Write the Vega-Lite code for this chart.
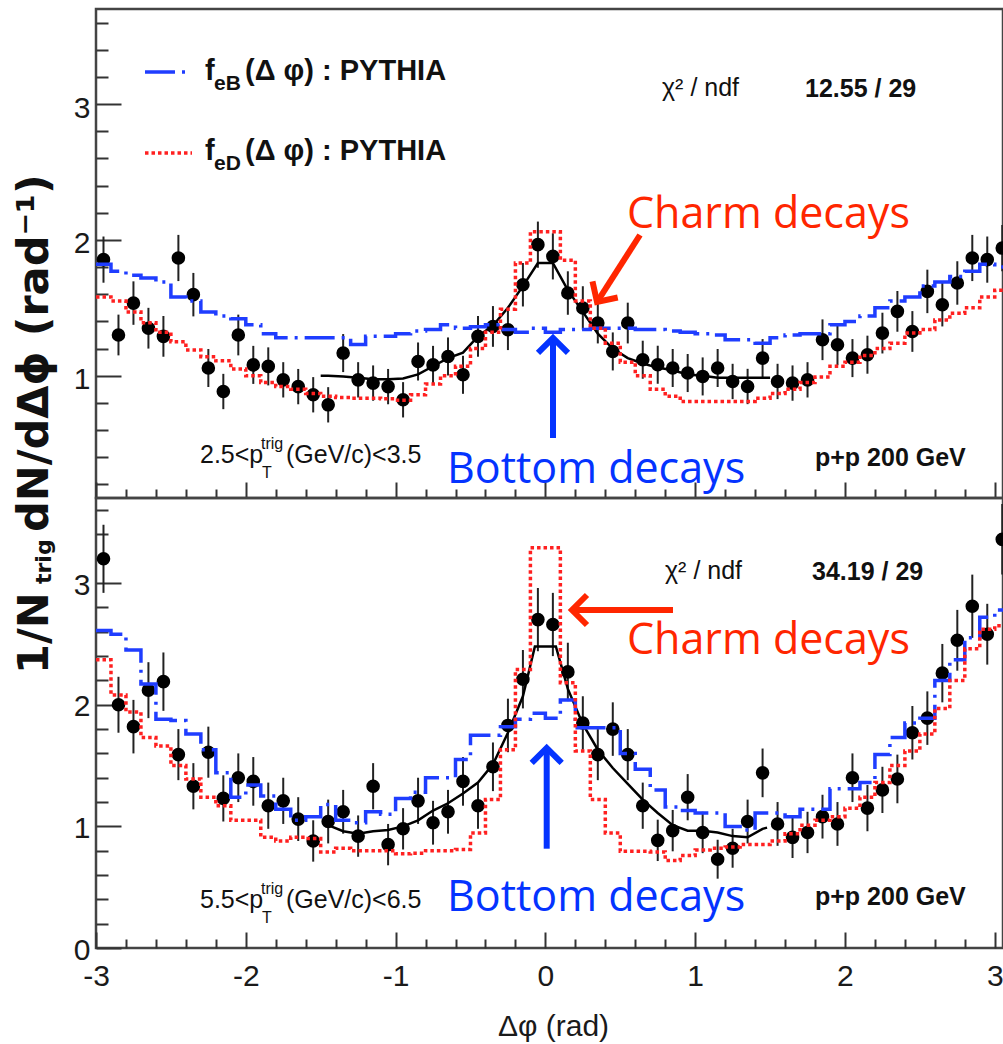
{
  "$schema": "https://vega.github.io/schema/vega-lite/v6.json",
  "autosize": {"type": "none"},
  "padding": {"left": 96, "top": 9, "right": 907, "bottom": 1035},
  "background": "white",
  "spacing": 0,
  "bounds": "flush",
  "config": {
    "view": {"stroke": "#444444", "strokeWidth": 2.5},
    "axis": {"domain": false, "grid": false, "tickColor": "#333333", "tickWidth": 2, "labelFont": "Liberation Sans, Arial, sans-serif", "labelFontSize": 30, "labelColor": "#1a1a1a", "labelFlush": false, "labelOverlap": false, "labelBound": false}
  },
  "datasets": {
    "topPts": [{"x":-2.95,"y":1.855,"err":0.17},{"x":-2.85,"y":1.30,"err":0.15},{"x":-2.75,"y":1.535,"err":0.16},{"x":-2.65,"y":1.35,"err":0.15},{"x":-2.55,"y":1.29,"err":0.15},{"x":-2.45,"y":1.867,"err":0.17},{"x":-2.35,"y":1.597,"err":0.16},{"x":-2.25,"y":1.057,"err":0.14},{"x":-2.15,"y":0.884,"err":0.13},{"x":-2.05,"y":1.30,"err":0.15},{"x":-1.95,"y":1.08,"err":0.14},{"x":-1.85,"y":1.069,"err":0.14},{"x":-1.75,"y":0.97,"err":0.13},{"x":-1.65,"y":0.92,"err":0.13},{"x":-1.55,"y":0.86,"err":0.13},{"x":-1.45,"y":0.786,"err":0.13},{"x":-1.35,"y":1.167,"err":0.14},{"x":-1.25,"y":0.97,"err":0.13},{"x":-1.15,"y":0.946,"err":0.13},{"x":-1.05,"y":0.92,"err":0.13},{"x":-0.95,"y":0.823,"err":0.13},{"x":-0.85,"y":1.105,"err":0.14},{"x":-0.75,"y":1.08,"err":0.14},{"x":-0.65,"y":1.142,"err":0.14},{"x":-0.55,"y":1.007,"err":0.14},{"x":-0.45,"y":1.29,"err":0.15},{"x":-0.35,"y":1.363,"err":0.15},{"x":-0.25,"y":1.339,"err":0.15},{"x":-0.15,"y":1.67,"err":0.16},{"x":-0.05,"y":1.965,"err":0.17},{"x":0.05,"y":1.879,"err":0.17},{"x":0.15,"y":1.609,"err":0.16},{"x":0.25,"y":1.499,"err":0.16},{"x":0.35,"y":1.388,"err":0.15},{"x":0.45,"y":1.179,"err":0.14},{"x":0.55,"y":1.388,"err":0.15},{"x":0.65,"y":1.118,"err":0.14},{"x":0.75,"y":1.081,"err":0.14},{"x":0.85,"y":1.057,"err":0.14},{"x":0.95,"y":1.02,"err":0.14},{"x":1.05,"y":0.995,"err":0.14},{"x":1.15,"y":1.057,"err":0.14},{"x":1.25,"y":0.958,"err":0.13},{"x":1.35,"y":0.921,"err":0.13},{"x":1.45,"y":1.13,"err":0.14},{"x":1.55,"y":0.958,"err":0.13},{"x":1.65,"y":0.946,"err":0.13},{"x":1.75,"y":0.97,"err":0.13},{"x":1.85,"y":1.265,"err":0.15},{"x":1.95,"y":1.228,"err":0.15},{"x":2.05,"y":1.13,"err":0.14},{"x":2.15,"y":1.155,"err":0.14},{"x":2.25,"y":1.314,"err":0.15},{"x":2.35,"y":1.474,"err":0.15},{"x":2.45,"y":1.326,"err":0.15},{"x":2.55,"y":1.621,"err":0.16},{"x":2.65,"y":1.523,"err":0.16},{"x":2.75,"y":1.683,"err":0.16},{"x":2.85,"y":1.867,"err":0.17},{"x":2.95,"y":1.855,"err":0.17},{"x":3.05,"y":1.94,"err":0.17}],
    "botPts": [{"x":-2.95,"y":3.20,"err":0.28},{"x":-2.85,"y":2.00,"err":0.23},{"x":-2.75,"y":1.82,"err":0.22},{"x":-2.65,"y":2.12,"err":0.23},{"x":-2.55,"y":2.19,"err":0.24},{"x":-2.45,"y":1.59,"err":0.21},{"x":-2.35,"y":1.33,"err":0.19},{"x":-2.25,"y":1.61,"err":0.21},{"x":-2.15,"y":1.23,"err":0.19},{"x":-2.05,"y":1.40,"err":0.20},{"x":-1.95,"y":1.37,"err":0.20},{"x":-1.85,"y":1.17,"err":0.19},{"x":-1.75,"y":1.21,"err":0.19},{"x":-1.65,"y":1.06,"err":0.18},{"x":-1.55,"y":0.88,"err":0.17},{"x":-1.45,"y":1.04,"err":0.18},{"x":-1.35,"y":1.12,"err":0.18},{"x":-1.25,"y":0.92,"err":0.17},{"x":-1.15,"y":1.33,"err":0.19},{"x":-1.05,"y":0.85,"err":0.17},{"x":-0.95,"y":0.98,"err":0.17},{"x":-0.85,"y":1.21,"err":0.19},{"x":-0.75,"y":1.03,"err":0.18},{"x":-0.65,"y":1.12,"err":0.18},{"x":-0.55,"y":1.37,"err":0.20},{"x":-0.45,"y":1.17,"err":0.19},{"x":-0.35,"y":1.49,"err":0.20},{"x":-0.25,"y":1.83,"err":0.22},{"x":-0.15,"y":2.21,"err":0.24},{"x":-0.05,"y":2.70,"err":0.26},{"x":0.05,"y":2.66,"err":0.26},{"x":0.15,"y":2.27,"err":0.24},{"x":0.25,"y":1.85,"err":0.22},{"x":0.35,"y":1.59,"err":0.21},{"x":0.45,"y":1.80,"err":0.22},{"x":0.55,"y":1.59,"err":0.21},{"x":0.65,"y":1.17,"err":0.19},{"x":0.75,"y":0.885,"err":0.17},{"x":0.85,"y":0.965,"err":0.17},{"x":0.95,"y":1.24,"err":0.19},{"x":1.05,"y":0.95,"err":0.17},{"x":1.15,"y":0.73,"err":0.16},{"x":1.25,"y":0.82,"err":0.16},{"x":1.35,"y":1.04,"err":0.18},{"x":1.45,"y":1.44,"err":0.20},{"x":1.55,"y":1.02,"err":0.18},{"x":1.65,"y":0.91,"err":0.17},{"x":1.75,"y":0.95,"err":0.17},{"x":1.85,"y":1.08,"err":0.18},{"x":1.95,"y":1.02,"err":0.18},{"x":2.05,"y":1.40,"err":0.20},{"x":2.15,"y":1.15,"err":0.19},{"x":2.25,"y":1.30,"err":0.19},{"x":2.35,"y":1.39,"err":0.20},{"x":2.45,"y":1.77,"err":0.22},{"x":2.55,"y":1.89,"err":0.22},{"x":2.65,"y":2.26,"err":0.24},{"x":2.75,"y":2.53,"err":0.25},{"x":2.85,"y":2.81,"err":0.26},{"x":2.95,"y":2.58,"err":0.25},{"x":3.05,"y":3.36,"err":0.29}],
    "topB": [{"x":-3.0,"y":1.82},{"x":-2.9,"y":1.77},{"x":-2.8,"y":1.74},{"x":-2.7,"y":1.72},{"x":-2.6,"y":1.69},{"x":-2.5,"y":1.58},{"x":-2.4,"y":1.55},{"x":-2.3,"y":1.47},{"x":-2.2,"y":1.44},{"x":-2.1,"y":1.42},{"x":-2.0,"y":1.375},{"x":-1.9,"y":1.31},{"x":-1.8,"y":1.28},{"x":-1.7,"y":1.28},{"x":-1.6,"y":1.28},{"x":-1.5,"y":1.28},{"x":-1.4,"y":1.28},{"x":-1.3,"y":1.23},{"x":-1.2,"y":1.29},{"x":-1.1,"y":1.29},{"x":-1.0,"y":1.31},{"x":-0.9,"y":1.33},{"x":-0.8,"y":1.34},{"x":-0.7,"y":1.375},{"x":-0.6,"y":1.35},{"x":-0.5,"y":1.36},{"x":-0.4,"y":1.375},{"x":-0.3,"y":1.34},{"x":-0.2,"y":1.32},{"x":-0.1,"y":1.35},{"x":0.0,"y":1.32},{"x":0.1,"y":1.34},{"x":0.2,"y":1.34},{"x":0.3,"y":1.35},{"x":0.4,"y":1.35},{"x":0.5,"y":1.35},{"x":0.6,"y":1.34},{"x":0.7,"y":1.34},{"x":0.8,"y":1.33},{"x":0.9,"y":1.32},{"x":1.0,"y":1.31},{"x":1.1,"y":1.30},{"x":1.2,"y":1.265},{"x":1.3,"y":1.265},{"x":1.4,"y":1.24},{"x":1.5,"y":1.28},{"x":1.6,"y":1.30},{"x":1.7,"y":1.31},{"x":1.8,"y":1.31},{"x":1.9,"y":1.375},{"x":2.0,"y":1.40},{"x":2.1,"y":1.44},{"x":2.2,"y":1.50},{"x":2.3,"y":1.55},{"x":2.4,"y":1.58},{"x":2.5,"y":1.66},{"x":2.6,"y":1.69},{"x":2.7,"y":1.73},{"x":2.8,"y":1.77},{"x":2.9,"y":1.82},{"x":3.0,"y":1.80},{"x":3.1,"y":1.80}],
    "topD": [{"x":-3.0,"y":1.58},{"x":-2.9,"y":1.55},{"x":-2.8,"y":1.47},{"x":-2.7,"y":1.39},{"x":-2.6,"y":1.32},{"x":-2.5,"y":1.25},{"x":-2.4,"y":1.19},{"x":-2.3,"y":1.14},{"x":-2.2,"y":1.11},{"x":-2.1,"y":1.05},{"x":-2.0,"y":1.00},{"x":-1.9,"y":0.95},{"x":-1.8,"y":0.92},{"x":-1.7,"y":0.90},{"x":-1.6,"y":0.87},{"x":-1.5,"y":0.85},{"x":-1.4,"y":0.84},{"x":-1.3,"y":0.835},{"x":-1.2,"y":0.835},{"x":-1.1,"y":0.83},{"x":-1.0,"y":0.82},{"x":-0.9,"y":0.86},{"x":-0.8,"y":0.94},{"x":-0.7,"y":1.00},{"x":-0.6,"y":1.07},{"x":-0.5,"y":1.20},{"x":-0.4,"y":1.32},{"x":-0.3,"y":1.49},{"x":-0.2,"y":1.83},{"x":-0.1,"y":2.06},{"x":0.0,"y":2.06},{"x":0.1,"y":1.85},{"x":0.2,"y":1.55},{"x":0.3,"y":1.35},{"x":0.4,"y":1.24},{"x":0.5,"y":1.10},{"x":0.6,"y":1.00},{"x":0.7,"y":0.90},{"x":0.8,"y":0.85},{"x":0.9,"y":0.81},{"x":1.0,"y":0.81},{"x":1.1,"y":0.81},{"x":1.2,"y":0.81},{"x":1.3,"y":0.81},{"x":1.4,"y":0.835},{"x":1.5,"y":0.87},{"x":1.6,"y":0.90},{"x":1.7,"y":0.95},{"x":1.8,"y":0.99},{"x":1.9,"y":1.07},{"x":2.0,"y":1.10},{"x":2.1,"y":1.15},{"x":2.2,"y":1.20},{"x":2.3,"y":1.24},{"x":2.4,"y":1.315},{"x":2.5,"y":1.34},{"x":2.6,"y":1.41},{"x":2.7,"y":1.46},{"x":2.8,"y":1.50},{"x":2.9,"y":1.58},{"x":3.0,"y":1.63},{"x":3.1,"y":1.63}],
    "botB": [{"x":-3.0,"y":2.61},{"x":-2.9,"y":2.58},{"x":-2.8,"y":2.45},{"x":-2.7,"y":2.17},{"x":-2.6,"y":1.88},{"x":-2.5,"y":1.87},{"x":-2.4,"y":1.76},{"x":-2.3,"y":1.63},{"x":-2.2,"y":1.44},{"x":-2.1,"y":1.24},{"x":-2.0,"y":1.34},{"x":-1.9,"y":1.25},{"x":-1.8,"y":1.14},{"x":-1.7,"y":1.05},{"x":-1.6,"y":1.08},{"x":-1.5,"y":1.18},{"x":-1.4,"y":1.05},{"x":-1.3,"y":1.03},{"x":-1.2,"y":1.12},{"x":-1.1,"y":1.10},{"x":-1.0,"y":1.23},{"x":-0.9,"y":1.28},{"x":-0.8,"y":1.40},{"x":-0.7,"y":1.40},{"x":-0.6,"y":1.55},{"x":-0.5,"y":1.75},{"x":-0.4,"y":1.75},{"x":-0.3,"y":1.82},{"x":-0.2,"y":1.88},{"x":-0.1,"y":1.93},{"x":0.0,"y":1.89},{"x":0.1,"y":2.04},{"x":0.2,"y":1.81},{"x":0.3,"y":1.81},{"x":0.4,"y":1.81},{"x":0.5,"y":1.60},{"x":0.6,"y":1.47},{"x":0.7,"y":1.30},{"x":0.8,"y":1.16},{"x":0.9,"y":1.13},{"x":1.0,"y":1.11},{"x":1.1,"y":1.11},{"x":1.2,"y":1.00},{"x":1.3,"y":0.97},{"x":1.4,"y":1.11},{"x":1.5,"y":1.11},{"x":1.6,"y":1.08},{"x":1.7,"y":1.14},{"x":1.8,"y":1.14},{"x":1.9,"y":1.31},{"x":2.0,"y":1.31},{"x":2.1,"y":1.36},{"x":2.2,"y":1.59},{"x":2.3,"y":1.73},{"x":2.4,"y":1.85},{"x":2.5,"y":1.89},{"x":2.6,"y":2.20},{"x":2.7,"y":2.37},{"x":2.8,"y":2.55},{"x":2.9,"y":2.72},{"x":3.0,"y":2.78},{"x":3.1,"y":2.78}],
    "botD": [{"x":-3.0,"y":2.37},{"x":-2.9,"y":2.08},{"x":-2.8,"y":1.94},{"x":-2.7,"y":1.73},{"x":-2.6,"y":1.66},{"x":-2.5,"y":1.50},{"x":-2.4,"y":1.39},{"x":-2.3,"y":1.24},{"x":-2.2,"y":1.17},{"x":-2.1,"y":1.05},{"x":-2.0,"y":1.05},{"x":-1.9,"y":0.91},{"x":-1.8,"y":0.88},{"x":-1.7,"y":0.91},{"x":-1.6,"y":0.90},{"x":-1.5,"y":0.79},{"x":-1.4,"y":0.82},{"x":-1.3,"y":0.80},{"x":-1.2,"y":0.80},{"x":-1.1,"y":0.80},{"x":-1.0,"y":0.775},{"x":-0.9,"y":0.78},{"x":-0.8,"y":0.80},{"x":-0.7,"y":0.80},{"x":-0.6,"y":0.81},{"x":-0.5,"y":0.945},{"x":-0.4,"y":1.22},{"x":-0.3,"y":1.63},{"x":-0.2,"y":2.29},{"x":-0.1,"y":3.29},{"x":0.0,"y":3.29},{"x":0.1,"y":2.18},{"x":0.2,"y":1.62},{"x":0.3,"y":1.22},{"x":0.4,"y":0.945},{"x":0.5,"y":0.795},{"x":0.6,"y":0.795},{"x":0.7,"y":0.79},{"x":0.8,"y":0.72},{"x":0.9,"y":0.76},{"x":1.0,"y":0.805},{"x":1.1,"y":0.82},{"x":1.2,"y":0.83},{"x":1.3,"y":0.85},{"x":1.4,"y":0.85},{"x":1.5,"y":0.88},{"x":1.6,"y":0.94},{"x":1.7,"y":1.01},{"x":1.8,"y":1.05},{"x":1.9,"y":1.08},{"x":2.0,"y":1.15},{"x":2.1,"y":1.24},{"x":2.2,"y":1.36},{"x":2.3,"y":1.50},{"x":2.4,"y":1.62},{"x":2.5,"y":1.76},{"x":2.6,"y":1.97},{"x":2.7,"y":2.20},{"x":2.8,"y":2.46},{"x":2.9,"y":2.62},{"x":3.0,"y":2.65},{"x":3.1,"y":2.65}],
    "topFit": [{"x":-1.5,"y":1.0},{"x":-1.45,"y":1.0},{"x":-1.35,"y":0.995},{"x":-1.25,"y":0.985},{"x":-1.15,"y":0.975},{"x":-1.05,"y":0.975},{"x":-0.95,"y":0.98},{"x":-0.85,"y":1.01},{"x":-0.75,"y":1.07},{"x":-0.65,"y":1.13},{"x":-0.55,"y":1.17},{"x":-0.45,"y":1.29},{"x":-0.35,"y":1.37},{"x":-0.25,"y":1.50},{"x":-0.15,"y":1.66},{"x":-0.05,"y":1.83},{"x":0.05,"y":1.83},{"x":0.15,"y":1.63},{"x":0.25,"y":1.47},{"x":0.35,"y":1.31},{"x":0.45,"y":1.20},{"x":0.55,"y":1.13},{"x":0.65,"y":1.09},{"x":0.75,"y":1.06},{"x":0.85,"y":1.04},{"x":0.95,"y":1.01},{"x":1.05,"y":1.0},{"x":1.15,"y":0.985},{"x":1.25,"y":0.985},{"x":1.35,"y":0.985},{"x":1.45,"y":0.985},{"x":1.5,"y":0.985}],
    "botFit": [{"x":-1.47,"y":1.01},{"x":-1.45,"y":1.01},{"x":-1.35,"y":0.96},{"x":-1.25,"y":0.94},{"x":-1.15,"y":0.96},{"x":-1.05,"y":0.97},{"x":-0.95,"y":1.0},{"x":-0.85,"y":1.05},{"x":-0.75,"y":1.13},{"x":-0.65,"y":1.19},{"x":-0.55,"y":1.27},{"x":-0.45,"y":1.36},{"x":-0.35,"y":1.51},{"x":-0.25,"y":1.77},{"x":-0.15,"y":2.07},{"x":-0.07,"y":2.48},{"x":0.07,"y":2.48},{"x":0.15,"y":2.13},{"x":0.25,"y":1.84},{"x":0.35,"y":1.63},{"x":0.45,"y":1.48},{"x":0.55,"y":1.35},{"x":0.65,"y":1.22},{"x":0.75,"y":1.11},{"x":0.85,"y":1.01},{"x":0.95,"y":0.965},{"x":1.05,"y":0.965},{"x":1.15,"y":0.95},{"x":1.25,"y":0.92},{"x":1.35,"y":0.91},{"x":1.45,"y":0.98},{"x":1.48,"y":0.99}]
  },
  "vconcat": [
    {
      "width": 907,
      "height": 489,
      "encoding": {
        "x": {"field": "x", "type": "quantitative", "scale": {"domain": [-3, 3.055], "nice": false, "zero": false},
              "axis": {"values": [-3,-2.8,-2.6,-2.4,-2.2,-2,-1.8,-1.6,-1.4,-1.2,-1,-0.8,-0.6,-0.4,-0.2,0,0.2,0.4,0.6,0.8,1,1.2,1.4,1.6,1.8,2,2.2,2.4,2.6,2.8,3], "labels": false, "title": null,
                       "tickSize": {"condition": {"test": "datum.value % 1 === 0", "value": -16}, "value": -9}}},
        "y": {"field": "y", "type": "quantitative", "scale": {"domain": [0.1, 3.7], "nice": false, "zero": false},
              "axis": {"values": [0.2,0.4,0.6,0.8,1,1.2,1.4,1.6,1.8,2,2.2,2.4,2.6,2.8,3,3.2,3.4,3.6], "title": null,
                       "labelExpr": "datum.value % 1 === 0 ? '' + datum.value : ''",
                       "tickSize": {"condition": {"test": "datum.value % 1 === 0", "value": -25}, "value": -12},
                       "labelPadding": 31, "labelOffset": 4}}
      },
      "layer": [
        {"data": {"name": "topPts"}, "mark": {"type": "errorbar", "color": "#222222", "thickness": 2}, "encoding": {"yError": {"field": "err"}}},
        {"data": {"name": "topPts"}, "mark": {"type": "point", "shape": "circle", "filled": true, "color": "#000000", "size": 185, "opacity": 1}},
        {"data": {"name": "topFit"}, "mark": {"type": "line", "color": "#000000", "strokeWidth": 2.5}},
        {"data": {"name": "topB"}, "mark": {"type": "line", "interpolate": "step-after", "color": "#1f3dff", "strokeWidth": 3.5, "strokeDash": [30, 7, 3, 7], "clip": true}},
        {"data": {"name": "topD"}, "mark": {"type": "line", "interpolate": "step-after", "color": "#ff2020", "strokeWidth": 3.5, "strokeDash": [3.5, 3], "clip": true}},
        {"data": {"values": [{"x": -2.6729, "x2": -2.3591, "y": 3.2362}]}, "mark": {"type": "rule", "color": "#1f3dff", "strokeWidth": 3.5, "strokeDash": [30, 7, 3, 7]}, "encoding": {"x2": {"field": "x2"}}},
        {"data": {"values": [{"x": -2.6729, "x2": -2.3591, "y": 2.6399}]}, "mark": {"type": "rule", "color": "#ff2020", "strokeWidth": 3.5, "strokeDash": [3.5, 3]}, "encoding": {"x2": {"field": "x2"}}},
        {"data": {"values": [{"x": -2.2723, "y": 3.1773, "t": "f"}, {"x": -2.0053, "y": 3.1773, "t": "(Δ φ) : PYTHIA"}, {"x": -2.2723, "y": 2.5883, "t": "f"}, {"x": -2.0053, "y": 2.5883, "t": "(Δ φ) : PYTHIA"}]},
         "mark": {"type": "text", "align": "left", "baseline": "alphabetic", "font": "Liberation Sans, Arial, sans-serif", "fontSize": 29, "fontWeight": "bold", "color": "#111111"}, "encoding": {"text": {"field": "t"}}},
        {"data": {"values": [{"x": -2.2123, "y": 3.1037, "t": "eB"}, {"x": -2.2123, "y": 2.5147, "t": "eD"}]},
         "mark": {"type": "text", "align": "left", "baseline": "alphabetic", "font": "Liberation Sans, Arial, sans-serif", "fontSize": 21, "fontWeight": "bold", "color": "#111111"}, "encoding": {"text": {"field": "t"}}},
        {"data": {"values": [{"x": 0.7785, "y": 3.0595, "t": "χ² / ndf"}, {"x": -2.3057, "y": 0.3605, "t": "2.5<p"}, {"x": -1.7316, "y": 0.3605, "t": "(GeV/c)<3.5"}]},
         "mark": {"type": "text", "align": "left", "baseline": "alphabetic", "font": "Liberation Sans, Arial, sans-serif", "fontSize": 25, "color": "#111111"}, "encoding": {"text": {"field": "t"}}},
        {"data": {"values": [{"x": -1.8985, "y": 0.4636, "t": "trig"}, {"x": -1.8919, "y": 0.2472, "t": "T"}]},
         "mark": {"type": "text", "align": "left", "baseline": "alphabetic", "font": "Liberation Sans, Arial, sans-serif", "fontSize": 16, "color": "#111111"}, "encoding": {"text": {"field": "t"}}},
        {"data": {"values": [{"x": 1.7331, "y": 3.0485, "t": "12.55 / 29"}, {"x": 1.7999, "y": 0.3356, "t": "p+p 200 GeV"}]},
         "mark": {"type": "text", "align": "left", "baseline": "alphabetic", "font": "Liberation Sans, Arial, sans-serif", "fontSize": 25, "fontWeight": "bold", "color": "#111111"}, "encoding": {"text": {"field": "t"}}},
        {"data": {"values": [{"x": 0.5448, "y": 2.0877, "t": "Charm decays"}]},
         "mark": {"type": "text", "align": "left", "baseline": "alphabetic", "font": "Open Sans", "fontSize": 43, "color": "#ff2600"}, "encoding": {"text": {"field": "t"}}},
        {"data": {"values": [{"x": -0.6568, "y": 0.2103, "t": "Bottom decays"}]},
         "mark": {"type": "text", "align": "left", "baseline": "alphabetic", "font": "Open Sans", "fontSize": 43, "color": "#0433ff"}, "encoding": {"text": {"field": "t"}}},
        {"data": {"values": [{"x": 0.6316, "y": 2.0362, "x2": 0.3446, "y2": 1.5429}]}, "mark": {"type": "rule", "color": "#ff2600", "strokeWidth": 6}, "encoding": {"x2": {"field": "x2"}, "y2": {"field": "y2"}}},
        {"data": {"values": [{"x": 0.3446, "y": 1.5429}]}, "mark": {"type": "point", "shape": "M-1,-1L0,0L-1,1", "filled": false, "stroke": "#ff2600", "strokeWidth": 6, "size": 900, "angle": 122.7, "opacity": 1}},
        {"data": {"values": [{"x": 0.0508, "y": 0.5416, "x2": 0.0508, "y2": 1.278}]}, "mark": {"type": "rule", "color": "#0433ff", "strokeWidth": 6}, "encoding": {"x2": {"field": "x2"}, "y2": {"field": "y2"}}},
        {"data": {"values": [{"x": 0.0508, "y": 1.278}]}, "mark": {"type": "point", "shape": "M-1,-1L0,0L-1,1", "filled": false, "stroke": "#0433ff", "strokeWidth": 6, "size": 900, "angle": 270, "opacity": 1}}
      ]
    },
    {
      "width": 907,
      "height": 450,
      "encoding": {
        "x": {"field": "x", "type": "quantitative", "scale": {"domain": [-3, 3.055], "nice": false, "zero": false},
              "axis": {"values": [-3,-2.8,-2.6,-2.4,-2.2,-2,-1.8,-1.6,-1.4,-1.2,-1,-0.8,-0.6,-0.4,-0.2,0,0.2,0.4,0.6,0.8,1,1.2,1.4,1.6,1.8,2,2.2,2.4,2.6,2.8,3],
                       "labelExpr": "datum.value % 1 === 0 ? '' + datum.value : ''",
                       "tickSize": {"condition": {"test": "datum.value % 1 === 0", "value": -16}, "value": -9},
                       "labelPadding": 29,
                       "title": "Δφ (rad)", "titleFont": "Liberation Sans, Arial, sans-serif", "titleFontSize": 30, "titleFontWeight": "normal", "titleColor": "#1a1a1a",
                       "titleX": 457, "titleY": 87, "titleAlign": "center", "titleBaseline": "alphabetic"}},
        "y": {"field": "y", "type": "quantitative", "scale": {"domain": [0, 3.7], "nice": false, "zero": false},
              "axis": {"values": [0,0.2,0.4,0.6,0.8,1,1.2,1.4,1.6,1.8,2,2.2,2.4,2.6,2.8,3,3.2,3.4,3.6], "title": null,
                       "labelExpr": "datum.value % 1 === 0 ? '' + datum.value : ''",
                       "tickSize": {"condition": {"test": "datum.value % 1 === 0", "value": -25}, "value": -12},
                       "labelPadding": 31, "labelOffset": 2}}
      },
      "layer": [
        {"data": {"name": "botPts"}, "mark": {"type": "errorbar", "color": "#222222", "thickness": 2}, "encoding": {"yError": {"field": "err"}}},
        {"data": {"name": "botPts"}, "mark": {"type": "point", "shape": "circle", "filled": true, "color": "#000000", "size": 185, "opacity": 1}},
        {"data": {"name": "botFit"}, "mark": {"type": "line", "color": "#000000", "strokeWidth": 2.5}},
        {"data": {"name": "botB"}, "mark": {"type": "line", "interpolate": "step-after", "color": "#1f3dff", "strokeWidth": 3.5, "strokeDash": [30, 7, 3, 7], "clip": true}},
        {"data": {"name": "botD"}, "mark": {"type": "line", "interpolate": "step-after", "color": "#ff2020", "strokeWidth": 3.5, "strokeDash": [3.5, 3], "clip": true}},
        {"data": {"values": [{"x": 0.7985, "y": 3.03, "t": "χ² / ndf"}, {"x": -2.3057, "y": 0.3322, "t": "5.5<p"}, {"x": -1.7316, "y": 0.3322, "t": "(GeV/c)<6.5"}]},
         "mark": {"type": "text", "align": "left", "baseline": "alphabetic", "font": "Liberation Sans, Arial, sans-serif", "fontSize": 25, "color": "#111111"}, "encoding": {"text": {"field": "t"}}},
        {"data": {"values": [{"x": -1.8985, "y": 0.4473, "t": "trig"}, {"x": -1.8919, "y": 0.2056, "t": "T"}]},
         "mark": {"type": "text", "align": "left", "baseline": "alphabetic", "font": "Liberation Sans, Arial, sans-serif", "fontSize": 16, "color": "#111111"}, "encoding": {"text": {"field": "t"}}},
        {"data": {"values": [{"x": 1.7799, "y": 3.0258, "t": "34.19 / 29"}, {"x": 1.7999, "y": 0.3536, "t": "p+p 200 GeV"}]},
         "mark": {"type": "text", "align": "left", "baseline": "alphabetic", "font": "Liberation Sans, Arial, sans-serif", "fontSize": 25, "fontWeight": "bold", "color": "#111111"}, "encoding": {"text": {"field": "t"}}},
        {"data": {"values": [{"x": 0.5448, "y": 2.4149, "t": "Charm decays"}]},
         "mark": {"type": "text", "align": "left", "baseline": "alphabetic", "font": "Open Sans", "fontSize": 43, "color": "#ff2600"}, "encoding": {"text": {"field": "t"}}},
        {"data": {"values": [{"x": -0.6568, "y": 0.3083, "t": "Bottom decays"}]},
         "mark": {"type": "text", "align": "left", "baseline": "alphabetic", "font": "Open Sans", "fontSize": 43, "color": "#0433ff"}, "encoding": {"text": {"field": "t"}}},
        {"data": {"values": [{"x": 0.8519, "y": 2.7791, "x2": 0.1777, "y2": 2.7791}]}, "mark": {"type": "rule", "color": "#ff2600", "strokeWidth": 6}, "encoding": {"x2": {"field": "x2"}, "y2": {"field": "y2"}}},
        {"data": {"values": [{"x": 0.1777, "y": 2.7791}]}, "mark": {"type": "point", "shape": "M-1,-1L0,0L-1,1", "filled": false, "stroke": "#ff2600", "strokeWidth": 6, "size": 900, "angle": 180, "opacity": 1}},
        {"data": {"values": [{"x": 0.0088, "y": 0.8165, "x2": 0.0088, "y2": 1.6445}]}, "mark": {"type": "rule", "color": "#0433ff", "strokeWidth": 6}, "encoding": {"x2": {"field": "x2"}, "y2": {"field": "y2"}}},
        {"data": {"values": [{"x": 0.0088, "y": 1.6445}]}, "mark": {"type": "point", "shape": "M-1,-1L0,0L-1,1", "filled": false, "stroke": "#0433ff", "strokeWidth": 6, "size": 900, "angle": 270, "opacity": 1}},
        {"data": {"values": [{"x": -3.3204, "y": 2.2529, "t": "1/N"}, {"x": -3.3204, "y": 3.4205, "t": "dN/dΔϕ (rad⁻¹)"}]},
         "mark": {"type": "text", "align": "left", "baseline": "alphabetic", "angle": 270, "font": "DejaVu Sans", "fontSize": 43, "fontWeight": "bold", "color": "#111111"}, "encoding": {"text": {"field": "t"}}},
        {"data": {"values": [{"x": -3.3004, "y": 2.9929, "t": "trig"}]},
         "mark": {"type": "text", "align": "left", "baseline": "alphabetic", "angle": 270, "font": "DejaVu Sans", "fontSize": 22, "fontWeight": "bold", "color": "#111111"}, "encoding": {"text": {"field": "t"}}}
      ]
    }
  ]
}
